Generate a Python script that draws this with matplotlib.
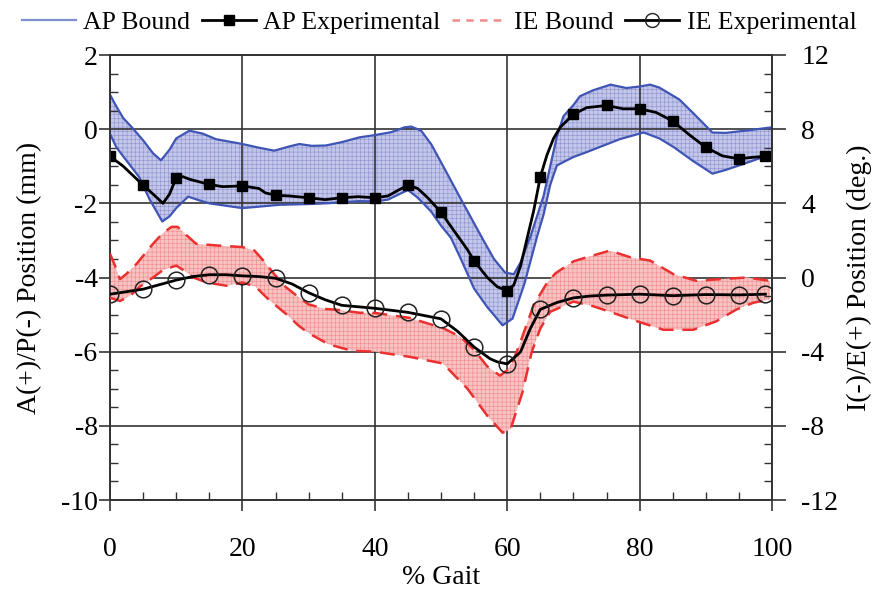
import numpy as np
import matplotlib
matplotlib.use("Agg")
import matplotlib.pyplot as plt
from matplotlib.ticker import MultipleLocator
from matplotlib.lines import Line2D

plt.rcParams['font.family'] = ['Liberation Serif', 'DejaVu Serif']
plt.rcParams['hatch.linewidth'] = 0.4
plt.rcParams['axes.unicode_minus'] = False

# ---- data ----
# AP (left axis, mm)
ap_mark_x = [0, 5, 10, 15, 20, 25, 30, 35, 40, 45, 50, 55, 60, 65, 70, 75, 80, 85, 90, 95, 99]
ap_mark_y = [-0.73, -1.51, -1.31, -1.49, -1.53, -1.78, -1.85, -1.85, -1.85, -1.51, -2.24,
             -3.55, -4.36, -1.29, 0.40, 0.64, 0.55, 0.22, -0.49, -0.80, -0.73]
ap_line_x = [0, 2, 5, 6.5, 8, 9, 10, 11, 12, 15, 17, 20, 22.5, 23.5, 25, 27, 30, 32.5, 35,
             37.5, 40, 42, 43.5, 45, 46.5, 48, 50, 52, 54, 55, 57, 58.5, 60, 61, 62, 63, 64,
             65, 66, 67, 68, 70, 72, 75, 77.5, 80, 82.5, 85, 87.5, 90, 92.5, 95, 97, 99]
ap_line_y = [-0.73, -1.0, -1.51, -1.75, -2.0, -1.75, -1.31, -1.28, -1.35, -1.49, -1.55, -1.53,
             -1.6, -1.72, -1.78, -1.8, -1.85, -1.9, -1.85, -1.82, -1.85, -1.8, -1.65, -1.51,
             -1.6, -1.85, -2.24, -2.75, -3.25, -3.55, -4.0, -4.25, -4.36, -4.2, -3.7, -2.95,
             -2.2, -1.29, -0.7, -0.25, 0.05, 0.40, 0.58, 0.64, 0.55, 0.55, 0.45, 0.22, -0.15,
             -0.49, -0.72, -0.80, -0.76, -0.73]
ap_up_x = [0, 1, 2, 3.3, 5, 6.5, 7.7, 9, 10, 12, 14, 16, 20, 22.5, 24.8, 27, 28.6, 30.5, 32.6,
           35, 37.7, 40, 42.5, 44.5, 45.5, 47, 48.5, 50, 53.2, 56.2, 58, 59.7, 61, 62, 63.5,
           65.5, 66.5, 67.5, 68.5, 70, 71, 73, 75.6, 78, 80, 81.6, 83, 86, 88, 91, 93, 96, 100]
ap_up_y = [0.93, 0.6, 0.3, 0.05, -0.3, -0.65, -0.84, -0.55, -0.25, -0.04, -0.12, -0.27, -0.4,
           -0.5, -0.58, -0.47, -0.4, -0.45, -0.44, -0.35, -0.22, -0.16, -0.08, 0.05, 0.07,
           -0.04, -0.4, -0.89, -1.95, -2.93, -3.5, -3.87, -3.91, -3.6, -2.9, -1.8, -1.0, -0.2,
           0.35, 0.65, 0.89, 1.05, 1.2, 1.11, 1.15, 1.2, 1.12, 0.8, 0.45, -0.09, -0.1, -0.04, 0.05]
ap_lo_x = [0, 1, 2.5, 4.4, 6, 7.9, 9, 10, 11.8, 13.5, 15, 20, 25.6, 30, 32.7, 37.7, 40, 42, 45,
           46.5, 48.5, 50, 51.5, 53, 55, 57, 59.3, 60.8, 62.6, 64.6, 65.5, 66.5, 67.5, 70, 72,
           77, 80.6, 83, 85.2, 88, 91, 93, 95, 100]
ap_lo_y = [-0.13, -0.5, -0.85, -1.29, -1.9, -2.49, -2.35, -2.13, -1.82, -1.92, -2.0, -2.13,
           -2.04, -2.02, -2.0, -1.94, -1.95, -1.9, -1.64, -1.85, -2.22, -2.6, -2.93, -3.5, -4.3,
           -4.8, -5.29, -5.11, -4.17, -2.84, -2.3, -1.5, -0.98, -0.75, -0.62, -0.27, -0.09,
           -0.25, -0.49, -0.85, -1.2, -1.1, -0.98, -0.67]

# IE (right axis, deg.)
ie_mark_x = ap_mark_x
ie_mark_y = [-0.9, -0.63, -0.14, 0.15, 0.09, -0.04, -0.82, -1.5, -1.66, -1.88, -2.23, -3.75,
             -4.66, -1.72, -1.1, -0.95, -0.9, -0.98, -0.92, -0.94, -0.9]
ie_line_x = [0, 5, 10, 12.5, 15, 17.5, 20, 22.5, 25, 27.5, 30, 32.5, 35, 40, 45, 50, 52.5, 55,
             57.4, 58.5, 60, 62, 63.5, 65, 67.5, 70, 72.5, 75, 80, 85, 90, 95, 99]
ie_line_y = [-0.9, -0.63, -0.14, 0.05, 0.15, 0.15, 0.09, 0.05, -0.04, -0.35, -0.82, -1.2, -1.5,
             -1.66, -1.88, -2.23, -2.9, -3.75, -4.38, -4.55, -4.66, -4.02, -2.75, -1.72, -1.35,
             -1.1, -1.0, -0.95, -0.9, -0.98, -0.92, -0.94, -0.9]
ie_up_x = [0, 0.8, 1.5, 2.5, 4, 6.5, 8, 9.3, 10.2, 11.5, 13, 16, 20, 21.8, 23.2, 24.6, 26.5,
           28.6, 30, 32.6, 34, 37.7, 40, 45.3, 50.3, 52.9, 55, 57, 58.9, 60, 61, 62, 64, 66,
           67.3, 70, 72, 75.5, 78.6, 81.6, 85.1, 88.6, 92.2, 96.2, 99.7]
ie_up_y = [1.28, 0.6, -0.09, 0.2, 0.73, 1.82, 2.4, 2.73, 2.73, 2.3, 1.82, 1.73, 1.64, 1.46,
           0.9, 0.27, -0.5, -1.09, -1.45, -1.7, -1.73, -1.9, -1.91, -2.18, -2.73, -3.19, -3.9,
           -4.8, -5.29, -5.0, -4.4, -3.48, -1.48, -0.3, 0.23, 0.87, 1.09, 1.45, 1.09, 0.91,
           0.18, -0.18, -0.09, 0.0, -0.18]
ie_lo_x = [0, 1.5, 3, 4.5, 6.5, 8, 10, 11.3, 12.6, 14.6, 17.7, 20, 22, 24, 26.7, 28.5, 30, 33,
           36.5, 40, 45.3, 50.3, 54, 57, 59.3, 60.5, 62.3, 63.7, 65, 66.5, 70, 73, 76, 79.6,
           83.6, 88.1, 91.6, 94.6, 97.2, 99.7]
ie_lo_y = [-1.09, -1.27, -1.0, -0.5, 0.0, 0.4, 0.64, 0.35, 0.0, -0.27, -0.45, -0.27, -0.5,
           -1.2, -2.0, -2.6, -3.0, -3.6, -3.95, -4.0, -4.28, -4.64, -6.0, -7.46, -8.37, -8.19,
           -6.2, -4.02, -2.75, -1.85, -1.3, -1.55, -1.91, -2.36, -2.82, -2.82, -2.36, -1.73,
           -1.36, -1.18]

ap_color = '#3f55b5'
ap_fill = '#c4c7ea'
ie_color = '#ec3030'
ie_fill = '#f9c3c3'

fig = plt.figure(figsize=(8.78, 5.97), dpi=100)
ax = fig.add_axes([110 / 878, 1 - 500 / 597, 662 / 878, 445 / 597])
ax2 = ax.twinx()

# AP band
ax.fill(np.concatenate([ap_up_x, ap_lo_x[::-1]]), np.concatenate([ap_up_y, ap_lo_y[::-1]]),
        facecolor=ap_fill, edgecolor='#8c92cf', hatch='++++', linewidth=0, zorder=1)
ax.plot(ap_up_x, ap_up_y, color=ap_color, lw=1.6, zorder=3)
ax.plot(ap_lo_x, ap_lo_y, color=ap_color, lw=1.6, zorder=3)
ax.plot(ap_line_x, ap_line_y, color='black', lw=2, zorder=4)
ax.plot(ap_mark_x, ap_mark_y, 's', color='black', ms=6.5, zorder=5)

# IE band
ax2.fill(np.concatenate([ie_up_x, ie_lo_x[::-1]]), np.concatenate([ie_up_y, ie_lo_y[::-1]]),
         facecolor=ie_fill, edgecolor='#f08a8a', hatch='++++', linewidth=0, zorder=1)
ax2.plot(ie_up_x, ie_up_y, color=ie_color, lw=1.8, ls=(0, (6, 3.5)), zorder=3)
ax2.plot(ie_lo_x, ie_lo_y, color=ie_color, lw=1.8, ls=(0, (6, 3.5)), zorder=3)
ax2.plot(ie_line_x, ie_line_y, color='black', lw=2, zorder=4)
ax2.plot(ie_mark_x, ie_mark_y, 'o', mfc='none', mec='#222222', mew=1.1, ms=12, zorder=5)

# axes
ax.set_xlim(0, 100)
ax.set_ylim(-10, 2)
ax2.set_ylim(-12, 12)
ax.xaxis.set_major_locator(MultipleLocator(20))
ax.xaxis.set_minor_locator(MultipleLocator(5))
ax.yaxis.set_major_locator(MultipleLocator(2))
ax.yaxis.set_minor_locator(MultipleLocator(0.5))
ax2.yaxis.set_major_locator(MultipleLocator(4))
ax2.yaxis.set_minor_locator(MultipleLocator(1))
ax.grid(True, which='major', color='#333333', lw=1.2, zorder=2)
ax.set_axisbelow(False)

ax.tick_params(which='major', direction='out', length=8, width=1.2, labelsize=20, color='#333333')
ax.tick_params(which='minor', direction='in', length=6, width=1.0, color='#333333')
ax.tick_params(axis='y', which='major', pad=1)
ax.tick_params(axis='x', which='major', pad=19)
ax2.tick_params(which='major', direction='out', length=10, width=1.2, labelsize=20, pad=11,
                color='#333333')
ax2.tick_params(which='minor', direction='in', length=6, width=1.0, color='#333333')
for a in (ax, ax2):
    for s in a.spines.values():
        s.set_color('#333333')
        s.set_linewidth(1.2)

ax.set_xlabel('% Gait', fontsize=20)
ax.xaxis.set_label_coords(0.5, -0.145)
ax.set_ylabel('A(+)/P(-) Position (mm)', fontsize=20)
ax.yaxis.set_label_coords(-0.103, 0.5)
ax2.set_ylabel('I(-)/E(+) Position (deg.)', fontsize=20, rotation=90)
ax2.yaxis.set_label_coords(1.113, 0.5)

handles = [
    Line2D([], [], color='#7f90d0', lw=1.6),
    Line2D([], [], color='black', lw=2, marker='s', ms=6.5),
    Line2D([], [], color='#f08a8a', lw=1.8, ls=(0, (3, 2.5))),
    Line2D([], [], color='black', lw=2, marker='o', mfc='none', ms=10, mec='#222222'),
]
labels = ['AP Bound', 'AP Experimental', 'IE Bound', 'IE Experimental']
fig.legend(handles, labels, loc='upper center', bbox_to_anchor=(0.5, 0.998), ncol=4,
           frameon=False, fontsize=18.5, handlelength=2.1, handletextpad=0.3,
           columnspacing=0.45, borderaxespad=0.)

fig.savefig('out.png', dpi=100)
